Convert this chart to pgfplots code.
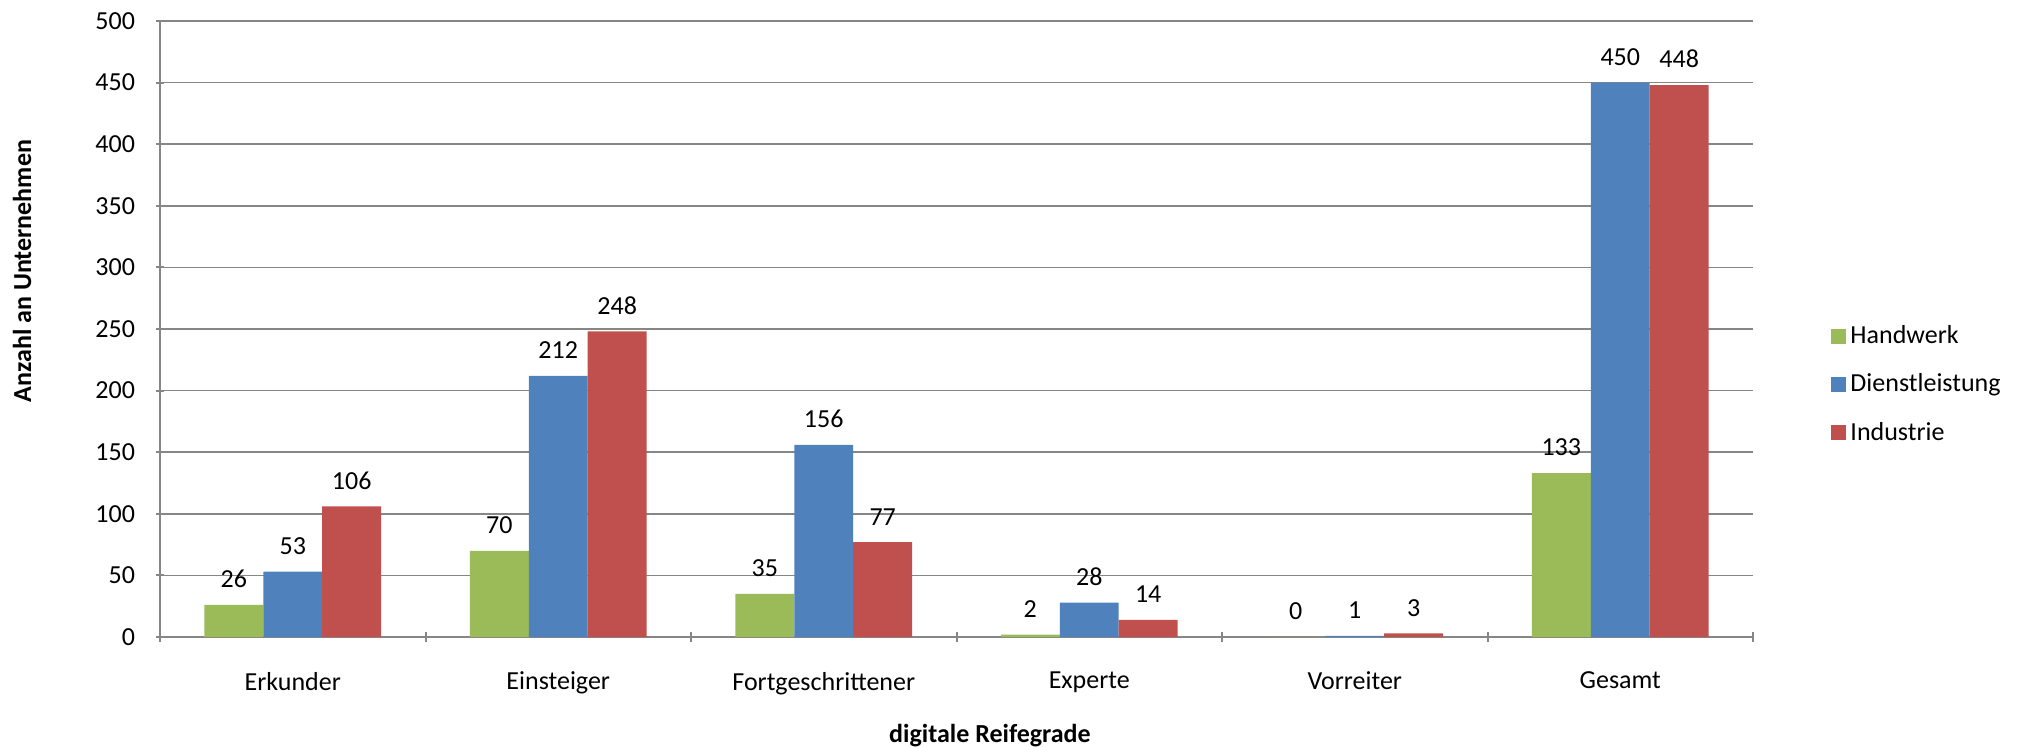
\documentclass[border=0pt]{standalone}
\usepackage{pgfplots}
\pgfplotsset{compat=1.18}
\usepackage{fontspec}
\setmainfont{Carlito}
\definecolor{cgreen}{HTML}{9BBB59}
\definecolor{cblue}{HTML}{4F81BD}
\definecolor{cred}{HTML}{C0504D}
\definecolor{cgrid}{HTML}{868686}
\pgfplotsset{
  /pgfplots/ybar legend/.style={
    /pgfplots/legend image code/.code={\fill[##1,draw=none] (0pt,-3.75pt) rectangle (7.5pt,3.75pt);}
  }
}
\begin{document}
\begin{tikzpicture}
\useasboundingbox (-80pt,-54.5pt) rectangle (931pt,318.5pt);
\begin{axis}[
  at={(0,0)}, anchor=south west,
  scale only axis, width=796.5pt, height=308pt,
  ybar=0pt, bar width=0.222,
  xmin=-0.5, xmax=5.5, ymin=0, ymax=500,
  ytick={0,50,...,500},
  xtick={0,1,2,3,4,5},
  xticklabels={Erkunder,Einsteiger,Fortgeschrittener,Experte,Vorreiter,Gesamt},
  minor xtick={-0.5,0.5,1.5,2.5,3.5,4.5,5.5},
  major x tick style={draw=none},
  minor x tick style={draw=cgrid, line width=1pt},
  minor tick length=5pt,
  major tick length=4pt,
  ytick style={draw=cgrid, line width=1pt},
  tick align=outside,
  axis x line=bottom, axis y line=left,
  axis line style={-, draw=cgrid, line width=1pt},
  ymajorgrids, grid style={draw=cgrid, line width=0.8pt},
  /pgf/number format/assume math mode=true,
  ticklabel style={font=\fontsize{13}{15}\selectfont},
  yticklabel style={xshift=-7pt},
  xticklabel style={yshift=-12pt},
  xlabel={digitale Reifegrade},
  ylabel={Anzahl an Unternehmen},
  xlabel style={font=\fontsize{13}{15}\selectfont\bfseries, at={(axis description cs:0.521,-0.1600)}, anchor=center, inner sep=0pt},
  ylabel style={font=\fontsize{13}{15}\selectfont\bfseries, at={(axis description cs:-0.0866,0.594)}, anchor=center},
  nodes near coords,
  every node near coord/.append style={font=\fontsize{13}{15}\selectfont, text=black, yshift=5pt},
  legend style={at={(axis description cs:1.049,0.410)}, anchor=west, draw=none, fill=none,
    font=\fontsize{13}{15}\selectfont, row sep=9.6pt, inner xsep=0pt, cells={anchor=west}},
]
\addplot[fill=cgreen, draw=none] coordinates {(0,26) (1,70) (2,35) (3,2) (4,0) (5,133)};
\addplot[fill=cblue, draw=none] coordinates {(0,53) (1,212) (2,156) (3,28) (4,1) (5,450)};
\addplot[fill=cred, draw=none] coordinates {(0,106) (1,248) (2,77) (3,14) (4,3) (5,448)};
\legend{Handwerk,Dienstleistung,Industrie}
\end{axis}
\end{tikzpicture}
\end{document}
